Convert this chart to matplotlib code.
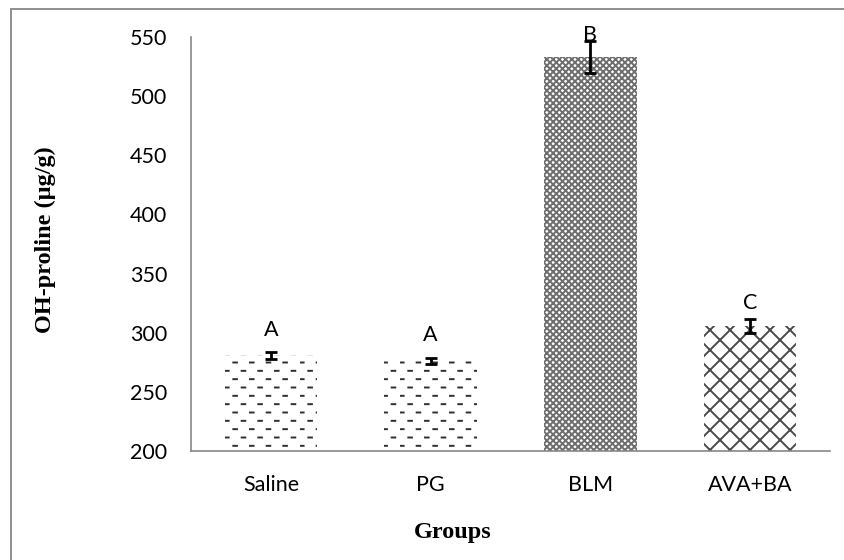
import warnings
warnings.filterwarnings("ignore")
import numpy as np
import matplotlib
matplotlib.use("Agg")
import matplotlib.pyplot as plt
import matplotlib.hatch as mhatch
from matplotlib.path import Path
from matplotlib.patches import Rectangle

# ---- data ----
groups = ["Saline", "PG", "BLM", "AVA+BA"]
means = [281, 276, 533, 305.5]
errors = [3, 2.5, 13.5, 6]
letters = ["A", "A", "B", "C"]
letter_y = [302, 298, 551.5, 325.5]
y_ticks = [200, 250, 300, 350, 400, 450, 500, 550]


# ---- custom hatch patterns ----
class DashRowsHatch(mhatch.HatchPatternBase):
    """Staggered rows of short horizontal dashes (char 'd')."""
    def __init__(self, hatch, density):
        self.on = hatch.count('d') > 0
        self.rows = 12
        self.per = 6
        self.L = 0.036
        self.num_vertices = (self.rows * (self.per + 1)) * 2 if self.on else 0

    def set_vertices_and_codes(self, vertices, codes):
        k = 0
        for r in range(self.rows):
            y = (r + 0.5) / self.rows
            off = 0.0 if r % 2 == 0 else 0.5 / self.per
            for j in range(-1, self.per):
                x0 = j / self.per + off
                vertices[k] = (x0, y)
                vertices[k + 1] = (x0 + self.L, y)
                codes[k] = Path.MOVETO
                codes[k + 1] = Path.LINETO
                k += 2


def make_cross_hatch(char, k):
    class CrossHatch(mhatch.HatchPatternBase):
        def __init__(self, hatch, density):
            self.k = k if hatch.count(char) else 0
            self.num_vertices = (2 * self.k + 1) * 4 if self.k else 0

        def set_vertices_and_codes(self, vertices, codes):
            kk = self.k
            idx = 0
            for j in range(-kk, kk + 1):
                c = j / kk
                vertices[idx] = (0.0, c)
                vertices[idx + 1] = (1.0, 1.0 + c)
                idx += 2
            for j in range(0, 2 * kk + 1):
                c = j / kk
                vertices[idx] = (0.0, c)
                vertices[idx + 1] = (1.0, c - 1.0)
                idx += 2
            codes[0::2] = Path.MOVETO
            codes[1::2] = Path.LINETO
    return CrossHatch


mhatch._hatch_types.append(DashRowsHatch)
mhatch._hatch_types.append(make_cross_hatch('k', 5))
mhatch._hatch_types.append(make_cross_hatch('m', 16))

plt.rcParams['hatch.linewidth'] = 1.4

fig = plt.figure(figsize=(8.44, 5.6), dpi=100)
ax = fig.add_axes([191 / 844, 1 - 451 / 560, (830 - 191) / 844, (451 - 37) / 560])

x = np.arange(len(groups))
hatches = ['d', 'd', 'm', 'k']
hcolors = ['#2e2e2e', '#2e2e2e', '#6e6e6e', '#4a4a4a']
for xi, m, h, hc in zip(x, means, hatches, hcolors):
    ax.bar(xi, m - 200, bottom=200, width=0.58, facecolor='white',
           edgecolor=hc, linewidth=0, hatch=h, zorder=2)

ax.errorbar(x, means, yerr=errors, fmt='none', ecolor='black',
            elinewidth=2.0, capsize=4, capthick=2.0, zorder=3)

for xi, t, ly in zip(x, letters, letter_y):
    ax.text(xi, ly, t, ha='center', va='center', fontsize=15.5,
            family='Lato', color='black', clip_on=False)

ax.set_xlim(-0.5, 3.5)
ax.set_ylim(200, 550)
ax.set_yticks(y_ticks)
ax.set_xticks(x)
ax.set_xticklabels(groups)
ax.tick_params(axis='both', length=0, labelsize=15.5)
ax.tick_params(axis='y', pad=17)
ax.tick_params(axis='x', pad=17)
for lab in ax.get_xticklabels() + ax.get_yticklabels():
    lab.set_family('Lato')

for s in ['top', 'right']:
    ax.spines[s].set_visible(False)
for s in ['left', 'bottom']:
    ax.spines[s].set_color('#878787')
    ax.spines[s].set_linewidth(1.2)

fig.text(45 / 844, 1 - 240 / 560, 'OH-proline (µg/g)', rotation=90,
         ha='center', va='center', fontsize=17.5, fontweight='bold',
         family='Liberation Serif')
fig.text(453 / 844, 1 - 538 / 560, 'Groups', ha='center', va='baseline',
         fontsize=17.5, fontweight='bold', family='Liberation Serif')

border = Rectangle((10.5 / 844, -0.1), 1.2, 1 - 8.5 / 560 + 0.1,
                   transform=fig.transFigure, fill=False,
                   edgecolor='#878787', linewidth=1.3)
fig.patches.append(border)

fig.savefig('out.png', dpi=100)
